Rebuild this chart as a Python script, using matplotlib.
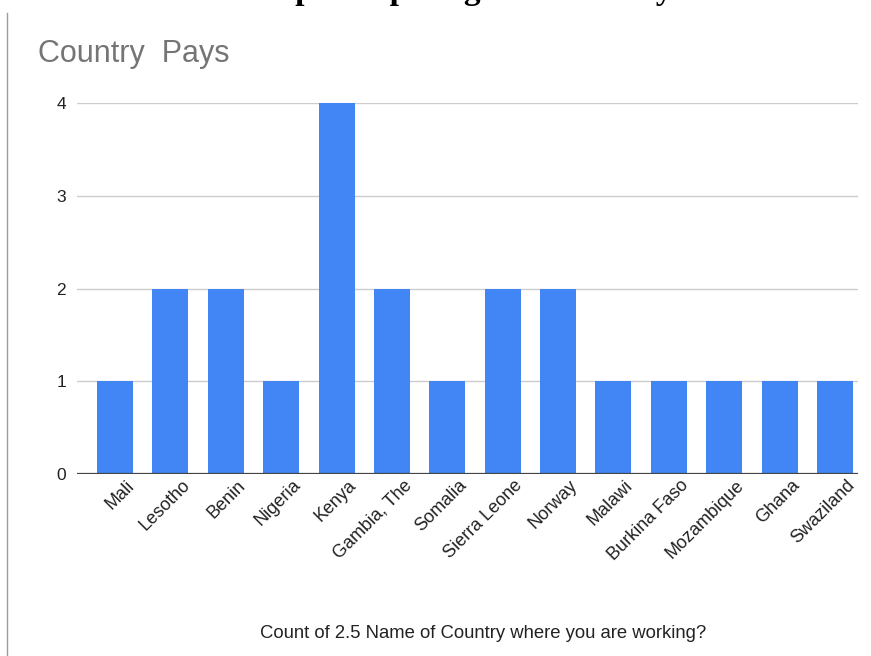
# -*- coding: utf-8 -*-
import numpy as np
import matplotlib.pyplot as plt
from matplotlib.lines import Line2D

# Chart data
countries = ['Mali', 'Lesotho', 'Benin', 'Nigeria', 'Kenya', 'Gambia, The',
             'Somalia', 'Sierra Leone', 'Norway', 'Malawi', 'Burkina Faso',
             'Mozambique', 'Ghana', 'Swaziland']
counts = [1, 2, 2, 1, 4, 2, 1, 2, 2, 1, 1, 1, 1, 1]
yticks = [0, 1, 2, 3, 4]

plt.rcParams['font.family'] = ['Liberation Sans', 'DejaVu Sans']

fig = plt.figure(figsize=(8.71, 6.56), dpi=100)
ax = fig.add_axes([0.0884, 0.2774, 0.8967, 0.5655])

x = np.arange(len(countries))
ax.bar(x, counts, width=0.65, color='#4285f4', zorder=3)

ax.set_xlim(-0.686, len(countries) - 1 + 0.415)
ax.set_ylim(0, 4)
ax.set_yticks(yticks)
ax.set_yticklabels([str(t) for t in yticks], fontsize=12.5, color='#222222')
ax.grid(axis='y', color='#cccccc', lw=1, zorder=0)
ax.axhline(0, color='#444444', lw=1.6, zorder=4)
ax.tick_params(axis='y', length=0, pad=8)
ax.tick_params(axis='x', length=0, pad=2)
ax.set_xticks(x + 0.2)
ax.set_xticklabels(countries, rotation=45, ha='right', rotation_mode='anchor',
                   fontsize=13, color='#222222')
for s in ax.spines.values():
    s.set_visible(False)

# Axis title
fig.text(0.555, 0.034, 'Count of 2.5 Name of Country where you are working?',
         fontsize=13.3, color='#222222', ha='center', va='center')

# Chart title
fig.text(0.044, 0.905, 'Country  Pays', fontsize=22, color='#757575',
         ha='left', va='baseline')

# Clipped heading of the surrounding document (only descenders visible)
fig.text(0.168, 1.001, 'Countries participating in the survey', fontsize=24,
         family='Liberation Serif', fontweight='bold', color='black',
         ha='left', va='baseline')

# Thin page border on the left
fig.add_artist(Line2D([0.008, 0.008], [0.0, 0.98], transform=fig.transFigure,
                      color='#9e9e9e', lw=1))

plt.savefig('out.png', dpi=100)
